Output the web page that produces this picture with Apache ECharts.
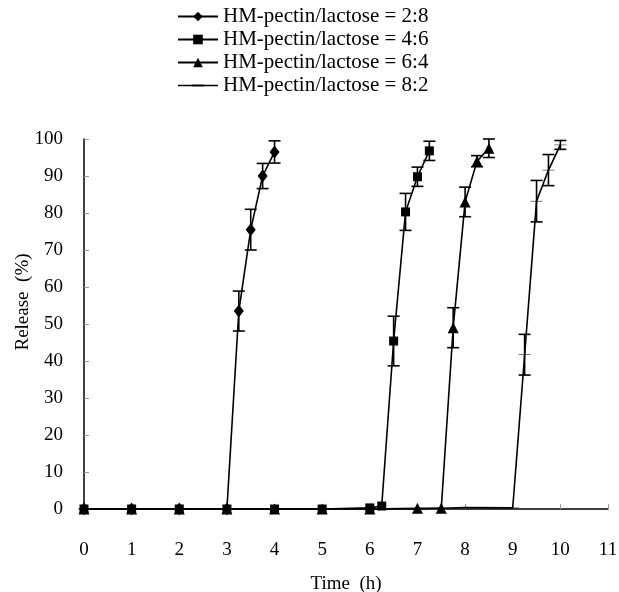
<!DOCTYPE html>
<html>
<head>
<meta charset="utf-8">
<script src="https://cdn.jsdelivr.net/npm/echarts@6/dist/echarts.min.js"></script>
<style>
  html, body { margin: 0; padding: 0; background: #fff; }
  #chart { width: 619px; height: 592px; }
</style>
</head>
<body>
<div id="chart"></div>
<script>
  // Release profiles, time in hours, release in %
  const names = [
    "HM-pectin/lactose = 2:8",
    "HM-pectin/lactose = 4:6",
    "HM-pectin/lactose = 6:4",
    "HM-pectin/lactose = 8:2"
  ]

  const times1 = [0, 1, 2, 3, 3.25, 3.5, 3.75, 4]
  const release1 = [0, 0, 0, 0, 53.5, 75.5, 90, 96.5]
  const err1 = [0, 0, 0, 0, 5.4, 5.5, 3.4, 3]

  const times2 = [0, 1, 2, 3, 4, 5, 6, 6.25, 6.5, 6.75, 7, 7.25]
  const release2 = [0, 0, 0, 0, 0, 0, 0.3, 0.8, 45.4, 80.3, 89.8, 96.8]
  const err2 = [0, 0, 0, 0, 0, 0, 0, 0, 6.7, 5, 2.6, 2.6]

  const times3 = [0, 1, 2, 3, 4, 5, 6, 7, 7.5, 7.75, 8, 8.25, 8.5]
  const release3 = [0, 0, 0, 0, 0, 0, 0, 0.2, 0.2, 49, 83, 94, 97.5]
  const err3 = [0, 0, 0, 0, 0, 0, 0, 0, 0, 5.4, 4, 1.5, 2.5]

  const times4 = [0, 1, 2, 3, 4, 5, 6, 7, 8, 9, 9.25, 9.5, 9.75, 10]
  const release4 = [0, 0, 0, 0, 0, 0, 0, 0, 0.4, 0.3, 41.7, 83.2, 91.6, 98.4]
  const err4 = [0, 0, 0, 0, 0, 0, 0, 0, 0, 0, 5.5, 5.6, 4.2, 1.2]

  const xTicks = [0, 1, 2, 3, 4, 5, 6, 7, 8, 9, 10, 11]
  const yTicks = [0, 10, 20, 30, 40, 50, 60, 70, 80, 90, 100]

  const font = "'Liberation Serif', 'Times New Roman', serif"
  const symbols = [
    { symbol: "diamond", size: [10, 13] },
    { symbol: "rect", size: 9 },
    { symbol: "triangle", size: 11 },
    { symbol: "path://M0,0H12V2.5H0Z", size: [12, 2.5] }
  ]
  // line + small dash, padded to the full legend icon box
  const dashIcon = "path://M0,0M40,12M0,5.3H40V6.7H0ZM14,5H26V7H14Z"

  const sets = [
    [times1, release1, err1],
    [times2, release2, err2],
    [times3, release3, err3],
    [times4, release4, err4]
  ]

  function errorBar(params, api) {
    const x = api.value(0)
    const p1 = api.coord([x, api.value(1)])
    const p2 = api.coord([x, api.value(2)])
    const cap = 6
    const style = { stroke: "#000", lineWidth: 1.6 }
    return {
      type: "group",
      children: [
        { type: "line", shape: { x1: p1[0], y1: p1[1], x2: p2[0], y2: p2[1] }, style },
        { type: "line", shape: { x1: p1[0] - cap, y1: p1[1], x2: p1[0] + cap, y2: p1[1] }, style },
        { type: "line", shape: { x1: p2[0] - cap, y1: p2[1], x2: p2[0] + cap, y2: p2[1] }, style }
      ]
    }
  }

  const series = []
  sets.forEach(([t, r, e], i) => {
    series.push({
      name: names[i],
      type: "line",
      data: t.map((v, k) => [v, r[k]]),
      symbol: symbols[i].symbol,
      symbolSize: symbols[i].size,
      symbolKeepAspect: true,
      showAllSymbol: true,
      itemStyle: { color: "#000" },
      lineStyle: { color: "#000", width: 1.6 },
      z: 3
    })
    series.push({
      type: "custom",
      renderItem: errorBar,
      data: t.map((v, k) => [v, r[k] - e[k], r[k] + e[k]]).filter((d, k) => e[k] > 0),
      encode: { x: 0, y: [1, 2] },
      silent: true,
      z: 2
    })
  })

  const chart = echarts.init(document.getElementById("chart"))
  chart.setOption({
    backgroundColor: "#fff",
    animation: false,
    legend: {
      data: names.map((n, i) => i === 3 ? { name: n, icon: dashIcon } : n),
      orient: "vertical",
      left: 172,
      top: 1,
      itemWidth: 40,
      itemHeight: 12,
      itemGap: 2,
      textStyle: { fontFamily: font, fontSize: 21, color: "#000" }
    },
    grid: { left: 84, right: 11, top: 139, bottom: 83, outerBoundsMode: "none", containLabel: false },
    xAxis: {
      type: "value",
      min: xTicks[0],
      max: xTicks[xTicks.length - 1],
      interval: 1,
      name: "Time  (h)",
      nameLocation: "middle",
      nameGap: 66,
      nameMoveOverlap: false,
      nameTextStyle: { fontFamily: font, fontSize: 19, color: "#000" },
      axisLine: { lineStyle: { color: "#000", width: 1.5 } },
      axisTick: { inside: true, length: 5, lineStyle: { color: "#999" } },
      axisLabel: { fontFamily: font, fontSize: 19, color: "#000", margin: 32 },
      splitLine: { show: false }
    },
    yAxis: {
      type: "value",
      min: yTicks[0],
      max: yTicks[yTicks.length - 1],
      interval: 10,
      name: "Release  (%)",
      nameLocation: "middle",
      nameGap: 51,
      nameMoveOverlap: false,
      nameTextStyle: { fontFamily: font, fontSize: 19, color: "#000", padding: [0, 0, 0, 44] },
      axisLine: { show: true, lineStyle: { color: "#000", width: 1.5 } },
      axisTick: { show: true, inside: true, length: 5, lineStyle: { color: "#999" } },
      axisLabel: { fontFamily: font, fontSize: 19, color: "#000", margin: 21 },
      splitLine: { show: false }
    },
    series
  })
</script>
</body>
</html>
